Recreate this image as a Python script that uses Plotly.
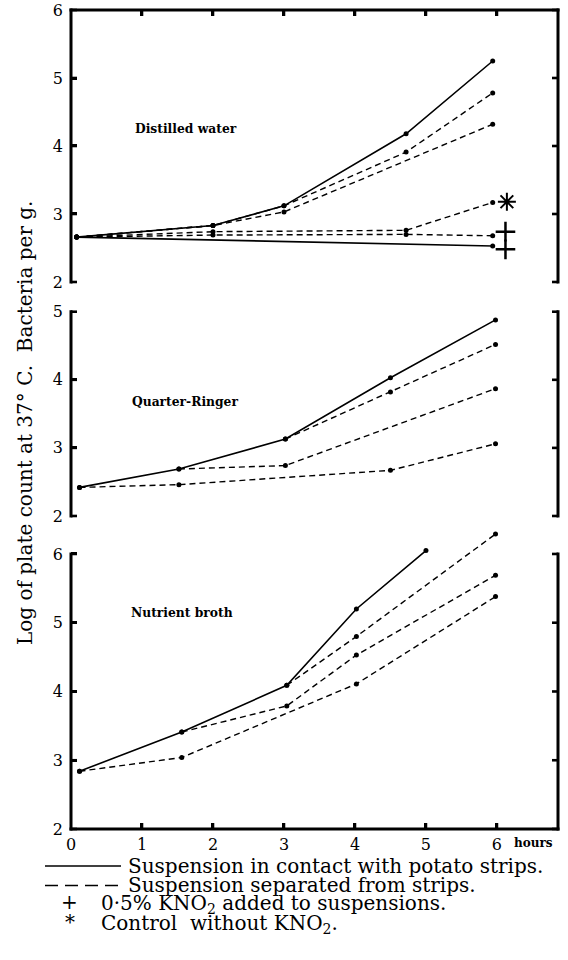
import plotly.graph_objects as go

# ------------------------------------------------------------------
# Data (hours, log of plate count)
# ------------------------------------------------------------------
# Panel 1: Distilled water
dw_contact_h = [0.08, 2.0, 3.0, 4.72, 5.94]
dw_contact_log = [2.66, 2.83, 3.12, 4.18, 5.25]
dw_sep_a_h = [0.08, 2.0, 3.0, 4.72, 5.94]
dw_sep_a_log = [2.66, 2.83, 3.12, 3.91, 4.78]
dw_sep_b_h = [0.08, 2.0, 3.0, 5.94]
dw_sep_b_log = [2.66, 2.83, 3.03, 4.32]
dw_ctrl_h = [0.08, 2.0, 4.72, 5.94]
dw_ctrl_log = [2.66, 2.74, 2.76, 3.17]
dw_kno2_sep_h = [0.08, 2.0, 4.72, 5.94]
dw_kno2_sep_log = [2.66, 2.69, 2.70, 2.68]
dw_kno2_contact_h = [0.08, 5.94]
dw_kno2_contact_log = [2.66, 2.53]
# symbols at the line ends
dw_star_h = [6.14]
dw_star_log = [3.18]
dw_plus_h = [6.12, 6.12]
dw_plus_log = [2.74, 2.48]

# Panel 2: Quarter-Ringer
qr_contact_h = [0.12, 1.52, 3.02, 4.5, 5.98]
qr_contact_log = [2.42, 2.69, 3.13, 4.03, 4.88]
qr_sep_a_h = [3.02, 4.5, 5.98]
qr_sep_a_log = [3.13, 3.82, 4.52]
qr_sep_b_h = [1.52, 3.02, 5.98]
qr_sep_b_log = [2.69, 2.74, 3.87]
qr_sep_c_h = [0.12, 1.52, 4.5, 5.98]
qr_sep_c_log = [2.42, 2.46, 2.67, 3.06]

# Panel 3: Nutrient broth
nb_contact_h = [0.12, 1.56, 3.04, 4.02, 5.0]
nb_contact_log = [2.84, 3.41, 4.09, 5.20, 6.05]
nb_sep_a_h = [3.04, 4.02, 5.98]
nb_sep_a_log = [4.09, 4.80, 6.29]
nb_sep_b_h = [1.56, 3.04, 4.02, 5.98]
nb_sep_b_log = [3.41, 3.79, 4.53, 5.69]
nb_sep_c_h = [0.12, 1.56, 4.02, 5.98]
nb_sep_c_log = [2.84, 3.04, 4.11, 5.38]

hour_ticks = [0, 1, 2, 3, 4, 5, 6]
hour_tick_labels = ["0", "1", "2", "3", "4", "5", "6"]
panel_ticks = [[2, 3, 4, 5, 6], [2, 3, 4, 5], [2, 3, 4, 5, 6]]
panel_names = ["Distilled water", "Quarter-Ringer", "Nutrient broth"]

# ------------------------------------------------------------------
SERIF = "DejaVu Serif"
INK = "black"
X_RANGE = [0, 6.86]
ML, MR, MT, MB = 71, 10, 10, 131
PW, PH = 568 - ML - MR, 960 - MT - MB

fig = go.Figure()


def add_series(xs, ys, dash, xa, ya, width):
    fig.add_trace(go.Scatter(
        x=xs, y=ys, xaxis=xa, yaxis=ya, mode="lines+markers",
        line=dict(color=INK, width=width, dash=dash),
        marker=dict(color=INK, size=5),
        showlegend=False, hoverinfo="skip"))


SOLID = "solid"
DASH = "6px,4px"

# panel 1
add_series(dw_kno2_contact_h, dw_kno2_contact_log, SOLID, "x", "y", 1.6)
add_series(dw_kno2_sep_h, dw_kno2_sep_log, DASH, "x", "y", 1.4)
add_series(dw_ctrl_h, dw_ctrl_log, DASH, "x", "y", 1.4)
add_series(dw_sep_b_h, dw_sep_b_log, DASH, "x", "y", 1.4)
add_series(dw_sep_a_h, dw_sep_a_log, DASH, "x", "y", 1.4)
add_series(dw_contact_h, dw_contact_log, SOLID, "x", "y", 1.6)
fig.add_trace(go.Scatter(
    x=dw_star_h, y=dw_star_log, xaxis="x", yaxis="y", mode="markers",
    marker=dict(symbol="asterisk-open", size=15, color=INK,
                line=dict(color=INK, width=2)),
    showlegend=False, hoverinfo="skip", cliponaxis=False))
fig.add_trace(go.Scatter(
    x=dw_plus_h, y=dw_plus_log, xaxis="x", yaxis="y", mode="markers",
    marker=dict(symbol="cross-thin-open", size=14, color=INK,
                line=dict(color=INK, width=2.5)),
    showlegend=False, hoverinfo="skip", cliponaxis=False))

# panel 2
add_series(qr_sep_c_h, qr_sep_c_log, DASH, "x2", "y2", 1.4)
add_series(qr_sep_b_h, qr_sep_b_log, DASH, "x2", "y2", 1.4)
add_series(qr_sep_a_h, qr_sep_a_log, DASH, "x2", "y2", 1.4)
add_series(qr_contact_h, qr_contact_log, SOLID, "x2", "y2", 1.6)

# panel 3
add_series(nb_sep_c_h, nb_sep_c_log, DASH, "x3", "y3", 1.4)
add_series(nb_sep_b_h, nb_sep_b_log, DASH, "x3", "y3", 1.4)
add_series(nb_sep_a_h, nb_sep_a_log, DASH, "x3", "y3", 1.4)
add_series(nb_contact_h, nb_contact_log, SOLID, "x3", "y3", 1.6)

tickfont = dict(family=SERIF, size=16, color=INK)
common_x = dict(range=X_RANGE, showgrid=False, zeroline=False,
                showline=False, tickcolor=INK, tickwidth=2.5,
                automargin=False, ticklen=6, fixedrange=True)
common_y = dict(showgrid=False, zeroline=False, showline=False,
                tickcolor=INK, tickwidth=2.5, ticklen=6, ticks="inside",
                automargin=False, tickfont=tickfont, fixedrange=True,
                ticklabelstandoff=7)

DOM1, DOM2, DOM3 = [0.6679, 1.0], [0.3822, 0.6316], [0.0, 0.3694]
R1, R2, R3 = [2, 6], [2, 5], [2, 6.4]

fig.update_layout(
    template="none",
    width=568, height=960, autosize=False,
    margin=dict(l=ML, r=MR, t=MT, b=MB),
    paper_bgcolor="white", plot_bgcolor="rgba(0,0,0,0)",
    showlegend=False,
    xaxis=dict(common_x, anchor="y", side="top", ticks="inside",
               tickvals=hour_ticks[1:], showticklabels=False),
    xaxis2=dict(common_x, anchor="y2", ticks="", showticklabels=False),
    xaxis3=dict(common_x, anchor="y3", side="bottom", ticks="inside",
                tickvals=hour_ticks, ticktext=hour_tick_labels,
                tickfont=tickfont, ticklabelstandoff=4),
    yaxis=dict(common_y, anchor="x", domain=DOM1, range=R1,
               tickvals=panel_ticks[0]),
    yaxis2=dict(common_y, anchor="x2", domain=DOM2, range=R2,
                tickvals=panel_ticks[1]),
    yaxis3=dict(common_y, anchor="x3", domain=DOM3, range=R3,
                tickvals=panel_ticks[2]),
    # right-hand tick marks (no labels)
    yaxis4=dict(common_y, anchor="x", overlaying="y", side="right",
                range=R1, tickvals=panel_ticks[0], showticklabels=False),
    yaxis5=dict(common_y, anchor="x2", overlaying="y2", side="right",
                range=R2, tickvals=panel_ticks[1], showticklabels=False),
    yaxis6=dict(common_y, anchor="x3", overlaying="y3", side="right",
                range=R3, tickvals=panel_ticks[2], showticklabels=False),
)


def val_to_paper(v, dom, rng):
    return dom[0] + (dom[1] - dom[0]) * (v - rng[0]) / (rng[1] - rng[0])


def to_px_y(paper_y):
    return 960 - MB - paper_y * PH


def px_x(px):
    return (px - ML) / PW


def px_y(py):
    return (960 - MB - py) / PH


def bar(x0, y0, x1, y1):
    """Solid black filled rectangle given in page pixels."""
    fig.add_shape(type="rect", xref="paper", yref="paper",
                  x0=px_x(x0), x1=px_x(x1), y0=px_y(y1), y1=px_y(y0),
                  fillcolor=INK, line=dict(width=0), layer="above")


XL, XR = ML, ML + PW
FW = 1.5          # half frame thickness (px)
TL, TW = 6, 1.3   # tick length and half width (px)

doms = [DOM1, DOM2, DOM3]
rngs = [R1, R2, R3]
for i in range(3):
    lo = to_px_y(val_to_paper(2, doms[i], rngs[i]))
    hi = to_px_y(val_to_paper(panel_ticks[i][-1], doms[i], rngs[i]))
    # left and right frame sides
    bar(XL - FW, hi - FW, XL + FW, lo + FW)
    bar(XR - FW, hi - FW, XR + FW, lo + FW)
    # inside tick marks on both sides
    for v in panel_ticks[i]:
        ty = to_px_y(val_to_paper(v, doms[i], rngs[i]))
        bar(XL, ty - TW, XL + TL, ty + TW)
        bar(XR - TL, ty - TW, XR, ty + TW)

top_px = to_px_y(1.0)
bot_px = to_px_y(0.0)
bar(XL - FW, top_px - FW, XR + FW, top_px + FW)   # top of panel 1
bar(XL - FW, bot_px - FW, XR + FW, bot_px + FW)   # time axis
for h in hour_ticks[1:]:
    tx = XL + PW * (h - X_RANGE[0]) / (X_RANGE[1] - X_RANGE[0])
    bar(tx - TW, top_px, tx + TW, top_px + TL)
    bar(tx - TW, bot_px - TL, tx + TW, bot_px)

# panel labels
label_font = dict(family=SERIF, size=12.3, color=INK, weight="bold")
for name, xr, yr, lx, ly in [
        (panel_names[0], "x", "y", 1.62, 4.26),
        (panel_names[1], "x2", "y2", 1.61, 3.68),
        (panel_names[2], "x3", "y3", 1.56, 5.15)]:
    fig.add_annotation(text=name, xref=xr, yref=yr, x=lx, y=ly,
                       xanchor="center", yanchor="middle",
                       showarrow=False, font=label_font)

# hours label
fig.add_annotation(text="hours", xref="paper", yref="paper",
                   x=px_x(533), y=px_y(843), xanchor="center",
                   yanchor="middle", showarrow=False,
                   font=dict(family=SERIF, size=12, color=INK, weight="bold"))

# y-axis title
fig.add_annotation(text="Log of plate count at 37° C.  Bacteria per g.",
                   xref="paper", yref="paper", x=px_x(24.5), y=px_y(423.5),
                   xanchor="center", yanchor="middle",
                   textangle=-90, showarrow=False,
                   font=dict(family=SERIF, size=20, color=INK))

# legend (text key below the chart)
legend_font = dict(family=SERIF, size=20, color=INK)
fig.add_shape(type="line", xref="paper", yref="paper",
              x0=px_x(45), x1=px_x(121), y0=px_y(866), y1=px_y(866),
              line=dict(color=INK, width=1.5))
fig.add_shape(type="line", xref="paper", yref="paper",
              x0=px_x(45), x1=px_x(121), y0=px_y(885.5), y1=px_y(885.5),
              line=dict(color=INK, width=1.5, dash="13px,7px"))
legend_rows = [
    ("Suspension in contact with potato strips.", 126, 865.7),
    ("Suspension separated from strips.", 126, 885.3),
    ("0·5% KNO<sub>2</sub> added to suspensions.", 98.6, 904.3),
    ("Control  without KNO<sub>2</sub>.", 98.6, 924),
]
for txt, lx, ly in legend_rows:
    fig.add_annotation(text=txt, xref="paper", yref="paper",
                       x=px_x(lx), y=px_y(ly), xanchor="left",
                       yanchor="middle", showarrow=False, font=legend_font)
for sym, sx, sy in [("+", 69, 902), ("*", 70, 922)]:
    fig.add_annotation(text=sym, xref="paper", yref="paper",
                       x=px_x(sx), y=px_y(sy), xanchor="center",
                       yanchor="middle", showarrow=False, font=legend_font)

fig.write_html("out.html")
